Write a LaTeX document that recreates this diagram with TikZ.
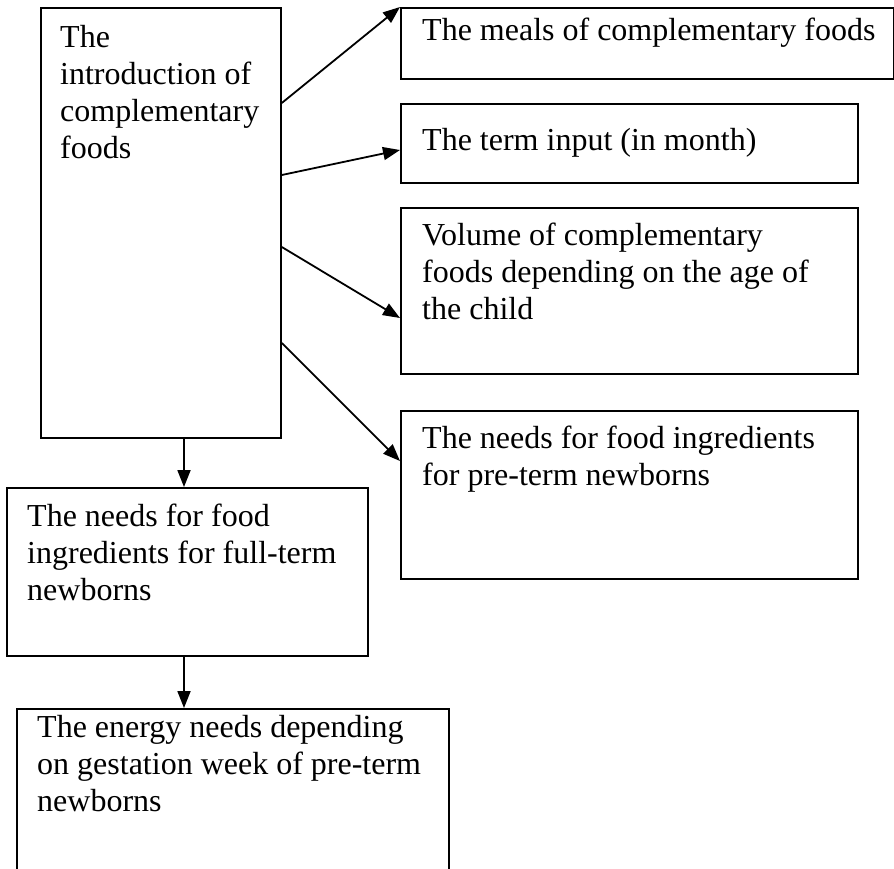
\documentclass[tikz,border=0pt]{standalone}
\usepackage{fontspec}
\setmainfont{Liberation Serif}
\usepackage{tikz}
\usetikzlibrary{arrows.meta, positioning}

\begin{document}
\begin{tikzpicture}[
    x=1pt, y=-1pt,
    box/.style={rectangle, draw, line width=1.8pt, anchor=north west, inner sep=0pt},
    txt/.style={anchor=north west, inner sep=0pt, align=left, font=\fontsize{32}{37}\selectfont},
    arrow/.style={-{Triangle[length=17pt, width=13pt]}, line width=1.8pt}
]
\useasboundingbox (0,0) rectangle (894,868);

% boxes
\node[box, minimum width=240pt, minimum height=430pt] (intro) at (40,7) {};
\node[box, minimum width=493pt, minimum height=71pt] (meals) at (400,7) {};
\node[box, minimum width=457pt, minimum height=79pt] (term) at (400,103) {};
\node[box, minimum width=457pt, minimum height=166pt] (volume) at (400,207) {};
\node[box, minimum width=457pt, minimum height=168pt] (preterm) at (400,410) {};
\node[box, minimum width=361pt, minimum height=168pt] (fullterm) at (6,487) {};
\node[box, minimum width=432pt, minimum height=175pt] (energy) at (16,708) {};

% texts
\node[txt, below right=14pt and 20pt of intro.north west] (intro-t) {\strut The\\introduction of\\complementary\\foods};
\node[txt, below right=7pt and 22pt of meals.north west] (meals-t) {\strut The meals of complementary foods};
\node[txt, below right=21pt and 22pt of term.north west] (term-t) {\strut The term input (in month)};
\node[txt, below right=12pt and 22pt of volume.north west] (volume-t) {\strut Volume of complementary\\foods depending on the age of\\the child};
\node[txt, below right=12pt and 22pt of preterm.north west] (preterm-t) {\strut The needs for food ingredients\\for pre-term newborns};
\node[txt, below right=13pt and 21pt of fullterm.north west] (fullterm-t) {\strut The needs for food\\ingredients for full-term\\newborns};
\node[txt, below right=3pt and 21pt of energy.north west] (energy-t) {\strut The energy needs depending\\on gestation week of pre-term\\newborns};

% connectors
\draw[arrow] ([yshift=-96pt]intro.north east) -- (meals.north west);
\draw[arrow] ([yshift=-168pt]intro.north east) -- ([yshift=-47pt]term.north west);
\draw[arrow] ([yshift=-240pt]intro.north east) -- ([yshift=-111pt]volume.north west);
\draw[arrow] ([yshift=-336pt]intro.north east) -- ([yshift=-51pt]preterm.north west);
\draw[arrow] ([xshift=144pt]intro.south west) -- ([xshift=178pt]fullterm.north west);
\draw[arrow] ([xshift=178pt]fullterm.south west) -- ([xshift=168pt]energy.north west);
\end{tikzpicture}
\end{document}
